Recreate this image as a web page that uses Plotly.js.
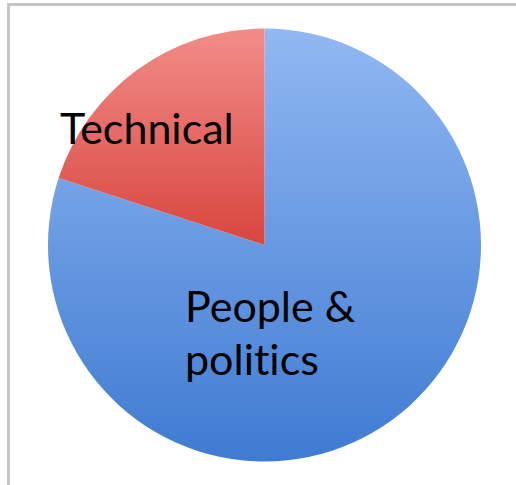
<!DOCTYPE html>
<html>
<head>
<meta charset="utf-8">
<script src="https://cdn.plot.ly/plotly-3.0.1.min.js"></script>
<style>
html,body{margin:0;padding:0;background:#fff;}
#chart{width:516px;height:485px;}
#chart text{font-variant-ligatures:none;font-feature-settings:"liga" 0;}
</style>
</head>
<body>
<div id="chart"></div>
<script>
const categories = ["People & politics", "Technical"];
const displayLabels = ["People &<br>politics", "Technical"];
const values = [80, 20];
const sliceColors = ["#6a9de8", "#e6625d"];

const trace = {
  type: "pie",
  labels: categories,
  values: values,
  sort: false,
  direction: "clockwise",
  rotation: 0,
  textinfo: "none",
  hoverinfo: "label+percent",
  marker: {colors: sliceColors, line: {width: 0}},
  domain: {x: [48/516, 481/516], y: [1-462/485, 1-28/485]},
  showlegend: false
};

const labelFont = {family: "Lato, 'Open Sans', sans-serif", size: 43, color: "#000"};

// label anchor positions (pixels): [x, y of each line's middle]
const labelPos = [[183, [305, 358]], [58, [128]]];
const annotations = [];
displayLabels.forEach(function(lbl, i){
  lbl.split("<br>").forEach(function(line, j){
    annotations.push({text: line, xref: "paper", yref: "paper",
      x: labelPos[i][0]/516, y: 1 - labelPos[i][1][j]/485,
      xanchor: "left", yanchor: "middle", showarrow: false, align: "left", font: labelFont});
  });
});

const layout = {
  width: 516, height: 485,
  margin: {l: 0, r: 0, t: 0, b: 0},
  paper_bgcolor: "#ffffff",
  showlegend: false,
  shapes: [
    {type: "line", xref: "paper", yref: "paper", x0: 7/516, x1: 516/516, y0: 1-4.5/485, y1: 1-4.5/485, line: {color: "#c4c4c4", width: 3}},
    {type: "line", xref: "paper", yref: "paper", x0: 8.5/516, x1: 8.5/516, y0: 0, y1: 1-3/485, line: {color: "#c4c4c4", width: 3}}
  ],
  annotations: annotations
};

Plotly.newPlot("chart", [trace], layout, {displayModeBar: false, staticPlot: true}).then(function(gd){
  const svg = gd.querySelector("svg.main-svg");
  const ns = "http://www.w3.org/2000/svg";
  let defs = svg.querySelector("defs");
  if (!defs) { defs = document.createElementNS(ns, "defs"); svg.insertBefore(defs, svg.firstChild); }
  function grad(id, top, bottom) {
    const g = document.createElementNS(ns, "linearGradient");
    g.setAttribute("id", id);
    g.setAttribute("x1", "0"); g.setAttribute("y1", "0");
    g.setAttribute("x2", "0"); g.setAttribute("y2", "1");
    [[0, top], [1, bottom]].forEach(function(s){
      const st = document.createElementNS(ns, "stop");
      st.setAttribute("offset", s[0]);
      st.setAttribute("stop-color", s[1]);
      g.appendChild(st);
    });
    defs.appendChild(g);
  }
  grad("gBlue", "#91b8f2", "#3f7bd2");
  grad("gRed", "#f28c88", "#d8463f");
  const paths = gd.querySelectorAll("g.slice path.surface");
  const ids = ["gBlue", "gRed"];
  paths.forEach(function(p, i){ p.style.fill = "url(#" + ids[i] + ")"; });
});
</script>
</body>
</html>
